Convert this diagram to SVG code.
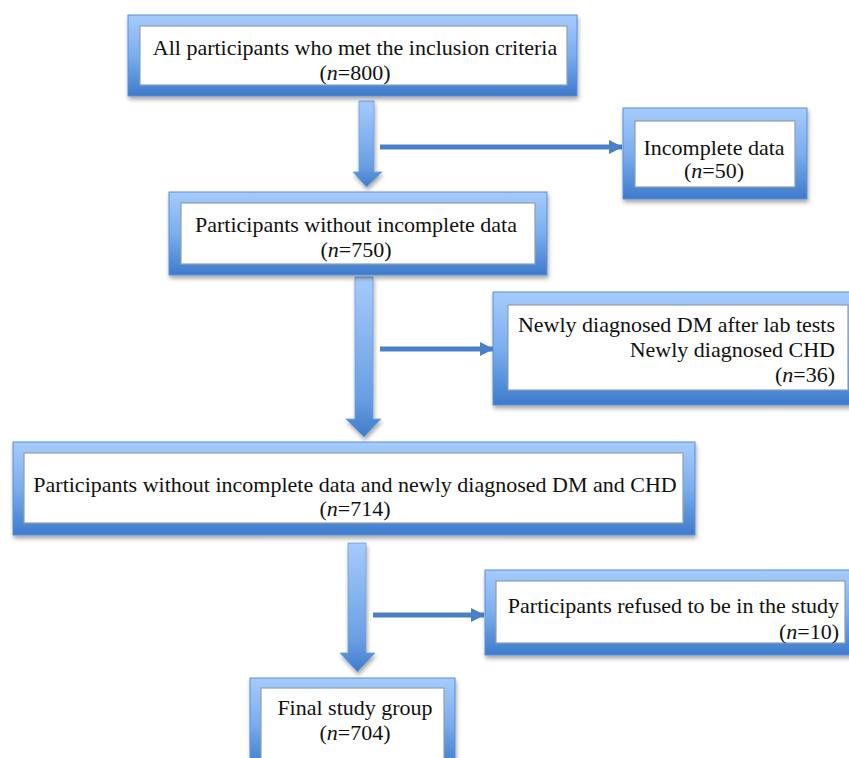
<svg xmlns="http://www.w3.org/2000/svg" width="849" height="758" viewBox="0 0 849 758">
<defs>
<linearGradient id="frame" x1="0" y1="0" x2="0" y2="1">
<stop offset="0" stop-color="#a6cbfb"/>
<stop offset="0.5" stop-color="#7aaeee"/>
<stop offset="1" stop-color="#3d7bcb"/>
</linearGradient>
<linearGradient id="shaft" x1="0" y1="0" x2="0" y2="1">
<stop offset="0" stop-color="#a6cbfb"/>
<stop offset="0.75" stop-color="#6a9fe3"/>
<stop offset="1" stop-color="#3f7cca"/>
</linearGradient>
<filter id="sh" x="-10%" y="-10%" width="120%" height="130%">
<feDropShadow dx="1" dy="3" stdDeviation="2" flood-color="#000" flood-opacity="0.35"/>
</filter>
<marker id="ah" markerWidth="14" markerHeight="14" refX="13" refY="7" orient="auto" markerUnits="userSpaceOnUse">
<path d="M0,0 L14,7 L0,14 Z" fill="#4a80c8"/>
</marker>
</defs>
<style>
.outer{fill:url(#frame);stroke:#5a8fd6;stroke-width:1;filter:url(#sh)}
.inner{fill:#fff;stroke:#8f9fae;stroke-width:1.2}
text{font-family:"Liberation Serif","Times New Roman",serif;font-size:22px;fill:#111}
.c{text-anchor:middle}
.r{text-anchor:end}
.blk{fill:url(#shaft);stroke:#6d9fe0;stroke-width:0.8;filter:url(#sh)}
.ln{stroke:#4a80c8;stroke-width:5;fill:none}
</style>
<g id="connectors">
<polygon class="blk" points="359,101 374,101 374,172 382,172 366.5,187 353,172 359,172"/>
<polygon class="blk" points="355,277 373,277 373,419 381,419 364,437 346,419 355,419"/>
<polygon class="blk" points="348,543 366,543 366,653 375,653 357.5,672 340,653 348,653"/>
<line class="ln" x1="380" y1="147" x2="622" y2="147" marker-end="url(#ah)"/>
<line class="ln" x1="380" y1="349" x2="493" y2="349" marker-end="url(#ah)"/>
<line class="ln" x1="373" y1="615" x2="484" y2="615" marker-end="url(#ah)"/>
</g>
<g id="n1">
<rect class="outer" x="128" y="15" width="449" height="81"/>
<rect class="inner" x="140" y="26" width="427" height="59"/>
<text class="c" x="355" y="55">All participants who met the inclusion criteria</text>
<text class="c" x="355" y="80">(<tspan font-style="italic">n</tspan>=800)</text>
</g>
<g id="n2">
<rect class="outer" x="623" y="108" width="184" height="91"/>
<rect class="inner" x="635" y="121" width="160" height="66"/>
<text class="c" x="714" y="155">Incomplete data</text>
<text class="c" x="714" y="178">(<tspan font-style="italic">n</tspan>=50)</text>
</g>
<g id="n3">
<rect class="outer" x="169" y="192" width="378" height="83"/>
<rect class="inner" x="181" y="203" width="354" height="61"/>
<text class="c" x="356" y="232">Participants without incomplete data</text>
<text class="c" x="356" y="257">(<tspan font-style="italic">n</tspan>=750)</text>
</g>
<g id="n4">
<rect class="outer" x="493" y="292" width="366" height="113"/>
<rect class="inner" x="508" y="305" width="340" height="85"/>
<text class="r" x="835" y="332">Newly diagnosed DM after lab tests</text>
<text class="r" x="835" y="357">Newly diagnosed CHD</text>
<text class="r" x="835" y="382">(<tspan font-style="italic">n</tspan>=36)</text>
</g>
<g id="n5">
<rect class="outer" x="13" y="442" width="682" height="93"/>
<rect class="inner" x="24" y="453" width="659" height="70"/>
<text class="c" x="355" y="492">Participants without incomplete data and newly diagnosed DM and CHD</text>
<text class="c" x="355" y="516">(<tspan font-style="italic">n</tspan>=714)</text>
</g>
<g id="n6">
<rect class="outer" x="485" y="570" width="374" height="85"/>
<rect class="inner" x="496" y="581" width="349" height="62"/>
<text class="r" x="839" y="613">Participants refused to be in the study</text>
<text class="r" x="839" y="639">(<tspan font-style="italic">n</tspan>=10)</text>
</g>
<g id="n7">
<rect class="outer" x="250" y="678" width="205" height="90"/>
<rect class="inner" x="261" y="688" width="183" height="80"/>
<text class="c" x="355" y="715">Final study group</text>
<text class="c" x="355" y="740">(<tspan font-style="italic">n</tspan>=704)</text>
</g>
</svg>
